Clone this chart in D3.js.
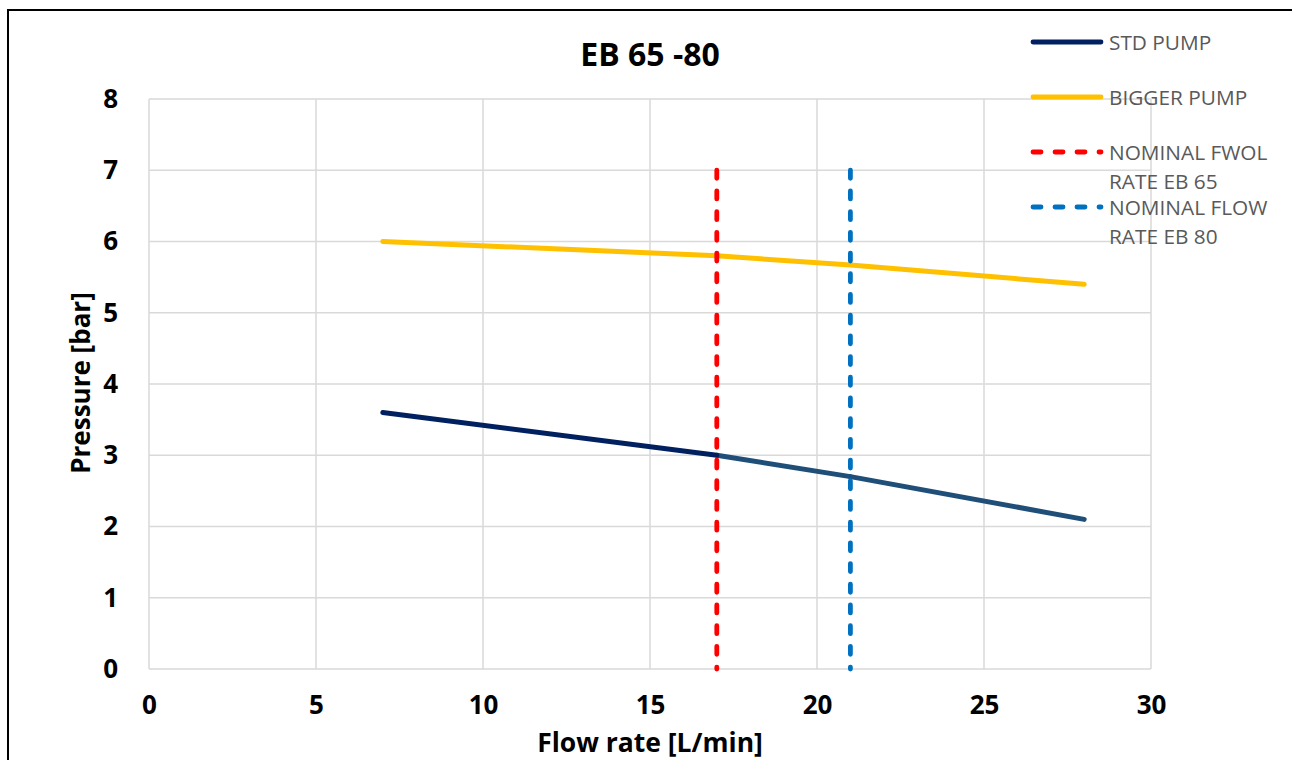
<!DOCTYPE html>
<html>
<head>
<meta charset="utf-8">
<script src="https://cdn.jsdelivr.net/npm/d3@7"></script>
<style>
  html, body { margin: 0; padding: 0; background: #fff; }
  svg { display: block; }
  text { font-family: "Open Sans", "DejaVu Sans", sans-serif; }
</style>
</head>
<body>
<svg id="chart" width="1292" height="760"></svg>
<script>
// ---- data ----
const chartTitle = "EB 65 -80";
const xAxisTitle = "Flow rate [L/min]";
const yAxisTitle = "Pressure [bar]";
const xTicks = [0, 5, 10, 15, 20, 25, 30];
const yTicks = [0, 1, 2, 3, 4, 5, 6, 7, 8];
const flowRates = [7, 17, 21, 28];
const stdPump = [3.6, 3.0, 2.7, 2.1];
const biggerPump = [6.0, 5.8, 5.67, 5.4];
const stdSegmentColors = ["#002060", "#1F4E79", "#1F4E79"];
const nominalEB65X = [17, 17];
const nominalEB65Y = [0, 7];
const nominalEB80X = [21, 21];
const nominalEB80Y = [0, 7];
const legendLabels = [["STD PUMP"], ["BIGGER PUMP"], ["NOMINAL FWOL", "RATE EB 65"], ["NOMINAL FLOW", "RATE EB 80"]];

// ---- layout ----
const svg = d3.select("#chart");
const W = 1292, H = 760;
const plot = { left: 149, right: 1151, top: 99, bottom: 669 };

const x = d3.scaleLinear().domain([0, 30]).range([plot.left, plot.right]);
const y = d3.scaleLinear().domain([0, 8]).range([plot.bottom, plot.top]);

svg.append("rect").attr("width", W).attr("height", H).attr("fill", "#fff");
// chart frame
svg.append("rect").attr("x", 8).attr("y", 10).attr("width", 1400).attr("height", 900)
  .attr("fill", "none").attr("stroke", "#000").attr("stroke-width", 2);

// gridlines
const grid = svg.append("g");
grid.selectAll("line.h").data(yTicks).join("line")
  .attr("x1", plot.left).attr("x2", plot.right)
  .attr("y1", d => y(d)).attr("y2", d => y(d))
  .attr("stroke", "#D9D9D9").attr("stroke-width", 1.5);
grid.selectAll("line.v").data(xTicks).join("line")
  .attr("y1", plot.top).attr("y2", plot.bottom)
  .attr("x1", d => x(d)).attr("x2", d => x(d))
  .attr("stroke", "#D9D9D9").attr("stroke-width", 1.5);

// axes (labels only, via d3 axis)
const xAxis = svg.append("g").attr("transform", `translate(0,${plot.bottom})`)
  .call(d3.axisBottom(x).tickValues(xTicks).tickSize(0).tickPadding(27).tickFormat(d3.format("d")));
xAxis.select(".domain").remove();
xAxis.selectAll("text").attr("font-size", 26).attr("font-weight", 700).attr("fill", "#000")
  .attr("font-family", '"Open Sans", sans-serif');

const yAxis = svg.append("g").attr("transform", `translate(${plot.left},0)`)
  .call(d3.axisLeft(y).tickValues(yTicks).tickSize(0).tickPadding(31).tickFormat(d3.format("d")));
yAxis.select(".domain").remove();
yAxis.selectAll("text").attr("font-size", 26).attr("font-weight", 700).attr("fill", "#000")
  .attr("font-family", '"Open Sans", sans-serif');

// title & axis titles
svg.append("text").attr("x", 650).attr("y", 66).attr("text-anchor", "middle")
  .attr("font-size", 32).attr("font-weight", 700).attr("fill", "#000").text(chartTitle);
svg.append("text").attr("x", 650).attr("y", 752).attr("text-anchor", "middle")
  .attr("font-size", 26.5).attr("font-weight", 700).attr("fill", "#000").text(xAxisTitle);
svg.append("text").attr("transform", `translate(90,383) rotate(-90)`).attr("text-anchor", "middle")
  .attr("font-size", 26).attr("font-weight", 700).attr("fill", "#000").text(yAxisTitle);

// series
const line = d3.line().x(d => x(d[0])).y(d => y(d[1]));
const bigPts = flowRates.map((f, i) => [f, biggerPump[i]]);
svg.append("path").attr("d", line(bigPts)).attr("fill", "none")
  .attr("stroke", "#FFC000").attr("stroke-width", 5).attr("stroke-linecap", "round").attr("stroke-linejoin", "round");

const stdPts = flowRates.map((f, i) => [f, stdPump[i]]);
for (let i = stdPts.length - 2; i >= 0; i--) {
  svg.append("path").attr("d", line([stdPts[i], stdPts[i + 1]])).attr("fill", "none")
    .attr("stroke", stdSegmentColors[i]).attr("stroke-width", 5).attr("stroke-linecap", "round");
}

// nominal flow dashed lines
const dash = "8 12.7";
svg.append("path").attr("d", line(nominalEB65X.map((v, i) => [v, nominalEB65Y[i]]).reverse()))
  .attr("fill", "none").attr("stroke", "#FF0000").attr("stroke-width", 4.8)
  .attr("stroke-dasharray", dash).attr("stroke-linecap", "round");
svg.append("path").attr("d", line(nominalEB80X.map((v, i) => [v, nominalEB80Y[i]]).reverse()))
  .attr("fill", "none").attr("stroke", "#0070C0").attr("stroke-width", 4.8)
  .attr("stroke-dasharray", dash).attr("stroke-linecap", "round");

// legend
const legendColors = ["#002060", "#FFC000", "#FF0000", "#0070C0"];
const legendDashed = [false, false, true, true];
const legendY = [42, 97, 152, 207];
const lg = svg.append("g");
legendLabels.forEach((lines, i) => {
  lg.append("line").attr("x1", 1033).attr("x2", 1101).attr("y1", legendY[i]).attr("y2", legendY[i])
    .attr("stroke", legendColors[i]).attr("stroke-width", 4.8).attr("stroke-linecap", "round")
    .attr("stroke-dasharray", legendDashed[i] ? "8 14" : null);
  const t = lg.append("text").attr("x", 1109).attr("y", legendY[i] + 7.5)
    .attr("font-size", 20.8).attr("fill", "#595959");
  lines.forEach((s, j) => t.append("tspan").attr("x", 1109).attr("dy", j === 0 ? 0 : 29).text(s));
});
</script>
</body>
</html>
